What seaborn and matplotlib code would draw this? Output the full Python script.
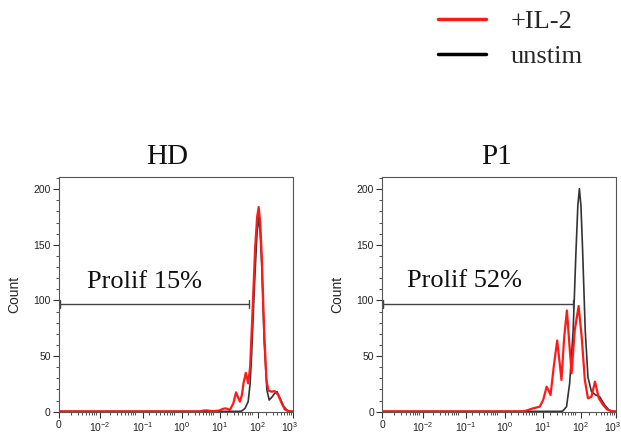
import numpy as np
import pandas as pd
import matplotlib
matplotlib.use("Agg")
import matplotlib.pyplot as plt
import matplotlib.transforms as mtransforms
from matplotlib.lines import Line2D
import seaborn as sns

# ---- data (x = position on the displayed biexponential axis, 0..6) ----
tick_pos = [0, 1.05, 2.15, 3.15, 4.13, 5.10, 6.0]
tick_labels = ["0", "10$^{-2}$", "10$^{-1}$", "10$^{0}$", "10$^{1}$", "10$^{2}$", "10$^{3}$"]

hd_il2_x = [0.0, 3.0, 3.62, 3.70, 3.78, 3.86, 3.95, 4.10, 4.20, 4.26, 4.32, 4.38, 4.47, 4.54,
            4.59, 4.64, 4.69, 4.73, 4.79, 4.85, 4.90, 4.96, 5.03, 5.08, 5.12, 5.16, 5.20, 5.26,
            5.32, 5.37, 5.45, 5.53, 5.62, 5.71, 5.79, 5.88, 5.95, 6.0]
hd_il2_y = [0.3, 0.3, 0.3, 1.0, 1.2, 0.8, 0.5, 1.0, 2.5, 3.0, 2.5, 1.5, 7.5, 17.4,
            13.0, 9.0, 15.0, 25.5, 35.0, 25.5, 40.0, 88.0, 148.0, 175.0, 184.0, 170.0, 139.0, 73.0,
            28.5, 19.0, 18.0, 18.5, 15.0, 7.5, 2.0, 0.5, 0.2, 0.2]

hd_un_x = [0.0, 4.60, 4.68, 4.77, 4.85, 4.90, 4.94, 4.99, 5.03, 5.08, 5.12, 5.16, 5.20, 5.26,
           5.33, 5.39, 5.47, 5.53, 5.59, 5.67, 5.76, 5.84, 5.93, 6.0]
hd_un_y = [0.3, 0.3, 0.5, 3.0, 9.0, 25.0, 52.0, 95.0, 127.0, 162.0, 175.0, 160.0, 130.0, 64.0,
           19.5, 10.5, 13.5, 16.5, 18.0, 12.0, 5.0, 1.5, 0.3, 0.3]

p1_il2_x = [0.0, 3.0, 3.60, 3.70, 3.87, 4.04, 4.13, 4.22, 4.27, 4.32, 4.40, 4.49, 4.55, 4.60,
            4.67, 4.74, 4.80, 4.86, 4.94, 5.04, 5.12, 5.20, 5.28, 5.37, 5.46, 5.56, 5.67, 5.77,
            5.88, 5.95, 6.0]
p1_il2_y = [0.3, 0.3, 0.3, 1.0, 3.0, 4.5, 10.5, 22.5, 19.0, 15.0, 40.0, 64.0, 45.0, 28.5,
            67.0, 91.0, 62.0, 34.5, 73.0, 95.0, 67.0, 28.5, 12.0, 13.5, 27.0, 12.0, 6.0, 2.0,
            0.5, 0.2, 0.2]

p1_un_x = [0.0, 4.55, 4.63, 4.73, 4.81, 4.90, 4.97, 5.02, 5.06, 5.10, 5.14, 5.21, 5.28, 5.37,
           5.48, 5.58, 5.71, 5.82, 5.92, 6.0]
p1_un_y = [0.3, 0.3, 0.5, 4.5, 25.5, 73.0, 142.0, 185.0, 200.5, 185.0, 148.0, 73.0, 31.0, 18.0,
           15.0, 13.5, 6.0, 1.5, 0.3, 0.3]

panels = ["HD", "P1"]
prolif_labels = ["Prolif 15%", "Prolif 52%"]
gate_end = [4.88, 4.90]
gate_level = 97
series_names = ["+IL-2", "unstim"]

sns.set_style("ticks")
plt.rcParams["font.family"] = ["Liberation Sans", "DejaVu Sans"]
plt.rcParams["mathtext.fontset"] = "custom"
plt.rcParams["mathtext.rm"] = "Liberation Sans"
plt.rcParams["mathtext.it"] = "Liberation Sans"
plt.rcParams["mathtext.default"] = "regular"

fig = plt.figure(figsize=(6.21, 4.34), dpi=100)
W, H = 621, 434
ax_boxes = [(59, 293), (382.3, 616)]
top_px, bot_px = 177, 411.7

data = [
    (hd_il2_x, hd_il2_y, hd_un_x, hd_un_y),
    (p1_il2_x, p1_il2_y, p1_un_x, p1_un_y),
]
title_x = [0.464, 0.49]
prolif_x = [0.72, 0.64]
prolif_y = [110.8, 111.7]

red = "#ff1a1a"
black = "#333333"

for i, (l, r) in enumerate(ax_boxes):
    ax = fig.add_axes([l / W, 1 - bot_px / H, (r - l) / W, (bot_px - top_px) / H])
    ix, iy, ux, uy = data[i]
    df_u = pd.DataFrame({"x": ux, "y": uy})
    df_r = pd.DataFrame({"x": ix, "y": iy})
    sns.lineplot(data=df_u, x="x", y="y", ax=ax, color=black, linewidth=1.2,
                 estimator=None, sort=False)
    sns.lineplot(data=df_r, x="x", y="y", ax=ax, color=red, linewidth=1.6,
                 estimator=None, sort=False)
    ax.set_xlim(0, 6.0)
    ax.set_ylim(0, 211)
    ax.set_xticks(tick_pos)
    ax.set_xticklabels(tick_labels)
    minors = []
    for d in range(6):
        for k in range(2, 10):
            minors.append(d + np.log10(k))
    ax.set_xticks(minors, minor=True)
    ax.set_yticks([0, 50, 100, 150, 200])
    ax.set_yticks(np.arange(0, 211, 10), minor=True)
    ax.tick_params(axis="both", which="major", labelsize=7.5, length=4, width=0.8,
                   color="#333333", direction="out", pad=2, labelcolor="#222222")
    ax.tick_params(axis="both", which="minor", length=2.5, width=0.6, color="#333333",
                   direction="out")
    last = ax.get_xticklabels()[-1]
    last.set_transform(last.get_transform() +
                       mtransforms.ScaledTranslation(-3 / 100, 0, fig.dpi_scale_trans))
    for s in ax.spines.values():
        s.set_visible(True)
        s.set_color("#555555")
        s.set_linewidth(0.8)
    ax.set_xlabel("")
    ax.set_ylabel("Count", fontsize=10, labelpad=9)
    # gate bar
    ax.plot([0, gate_end[i]], [gate_level, gate_level], color="#444444", lw=1.0)
    ax.plot([gate_end[i], gate_end[i]], [gate_level - 3.5, gate_level + 3.5], color="#444444", lw=1.0)
    ax.plot([0.02, 0.02], [gate_level - 3.5, gate_level + 3.5], color="#444444", lw=1.0,
            clip_on=False)
    ax.text(prolif_x[i], prolif_y[i], prolif_labels[i], fontsize=19,
            family=["Liberation Serif"], va="baseline", ha="left", color="#111111")
    ax.text(title_x[i], 1 + 12.7 / (bot_px - top_px), panels[i], transform=ax.transAxes,
            fontsize=21, family=["Liberation Serif"], va="baseline", ha="center", color="#111111")

handles = [Line2D([], [], color=red, lw=2.5), Line2D([], [], color="black", lw=2.5)]
fig.legend(handles, series_names, loc="upper left", bbox_to_anchor=(438 / W, 1 - 10 / H),
           frameon=False, prop={"family": "Liberation Serif", "size": 19},
           handlelength=1.8, handletextpad=0.95, labelspacing=0.42, borderpad=0,
           borderaxespad=0)

fig.savefig("out.png", dpi=100)
